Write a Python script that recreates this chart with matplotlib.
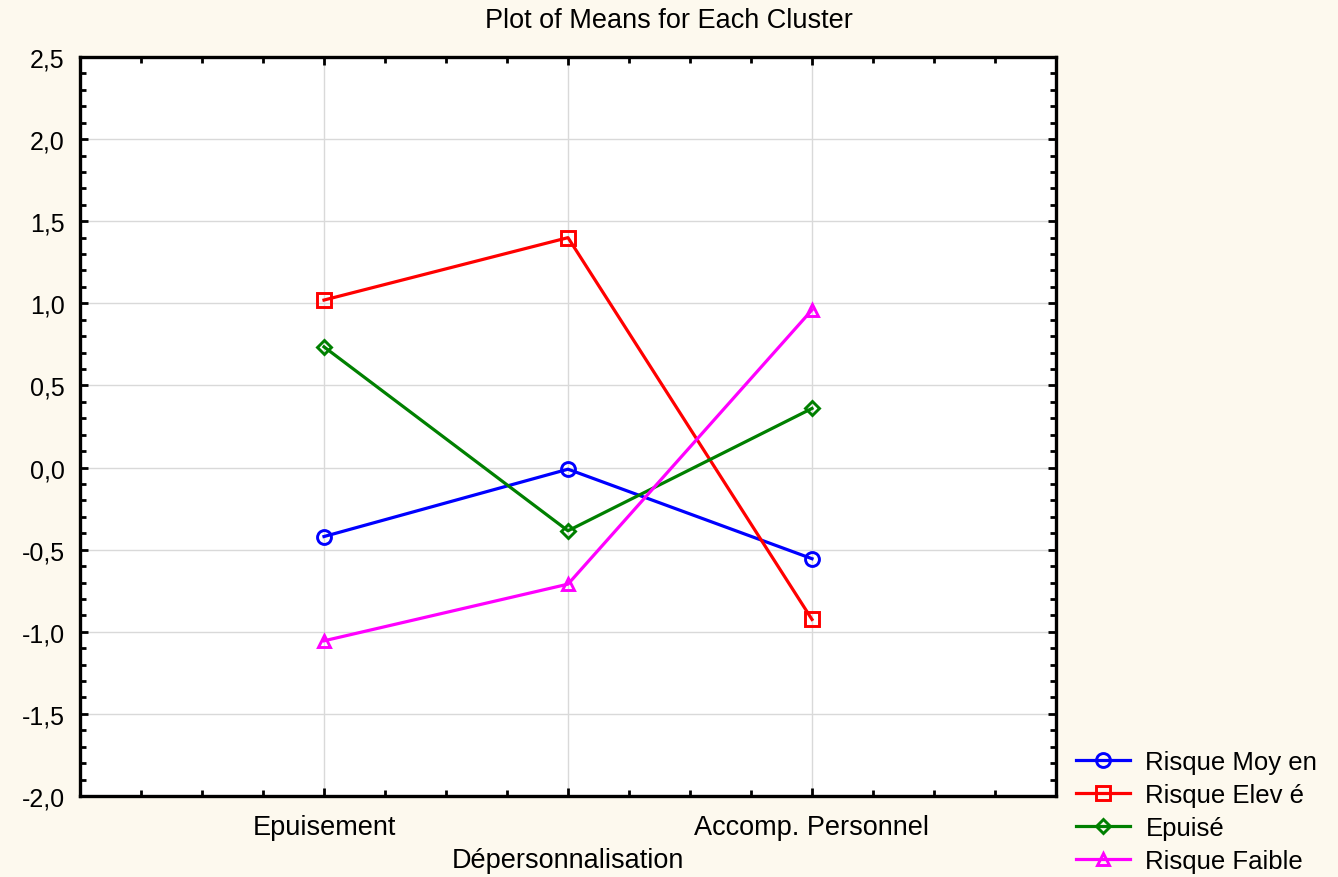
import matplotlib
matplotlib.use("Agg")
import matplotlib.pyplot as plt
from matplotlib.ticker import MultipleLocator, FixedLocator, FuncFormatter

categories = ["Epuisement", "Dépersonnalisation", "Accomp. Personnel"]
risque_moyen = [-0.42, -0.01, -0.555]
risque_eleve = [1.02, 1.40, -0.925]
epuise = [0.735, -0.385, 0.36]
risque_faible = [-1.055, -0.71, 0.96]
series_names = ["Risque Moy en", "Risque Elev é", "Epuisé", "Risque Faible"]

plt.rcParams['font.family'] = ['Liberation Sans', 'DejaVu Sans']
bg = '#FDF9EE'
fig = plt.figure(figsize=(13.38, 8.78), dpi=100, facecolor=bg)
ax = fig.add_axes([80/1338, 1-797/878, 976/1338, 739/878])
ax.set_facecolor('white')

x = [1, 2, 3]
styles = [
    (risque_moyen, 'blue', 'o', 10),
    (risque_eleve, 'red', 's', 10),
    (epuise, 'green', 'D', 7),
    (risque_faible, 'magenta', '^', 8.5),
]
for (vals, c, m, ms), name in zip(styles, series_names):
    ax.plot(x, vals, color=c, lw=2.3, marker=m, ms=ms, mfc='none', mec=c, mew=2.1,
            label=name, zorder=3)

ax.set_xlim(0, 4)
ax.set_ylim(-2.0, 2.5)
ax.xaxis.set_major_locator(FixedLocator([1, 2, 3]))
ax.xaxis.set_minor_locator(MultipleLocator(0.25))
ax.set_xticklabels([categories[0], "\n" + categories[1], categories[2]], linespacing=1.35)
ax.yaxis.set_major_locator(MultipleLocator(0.5))
ax.yaxis.set_minor_locator(MultipleLocator(0.1))
ax.yaxis.set_major_formatter(FuncFormatter(lambda v, p: f"{v:.1f}".replace('.', ',')))
ax.grid(True, which='major', color='#D9D9D9', lw=1)
ax.set_axisbelow(True)
ax.tick_params(which='both', direction='in', top=True, right=True, width=2.0, color='black')
ax.tick_params(which='major', length=5.5)
ax.tick_params(which='minor', length=4)
ax.tick_params(axis='x', which='major', labelsize=19.5, pad=13)
ax.tick_params(axis='y', which='major', labelsize=18, pad=11)
for s in ax.spines.values():
    s.set_linewidth(2.4)

fig.text(669/1338, 1-21/878, "Plot of Means for Each Cluster", ha='center', va='center', fontsize=19.5)

leg = fig.legend(loc='upper left', bbox_to_anchor=(1076/1338, 1-751/878), frameon=False,
                 fontsize=18.5, handlelength=2.1, handletextpad=0.6, labelspacing=0.35,
                 borderaxespad=0, borderpad=0)
fig.savefig("out.png", dpi=100, facecolor=bg)
